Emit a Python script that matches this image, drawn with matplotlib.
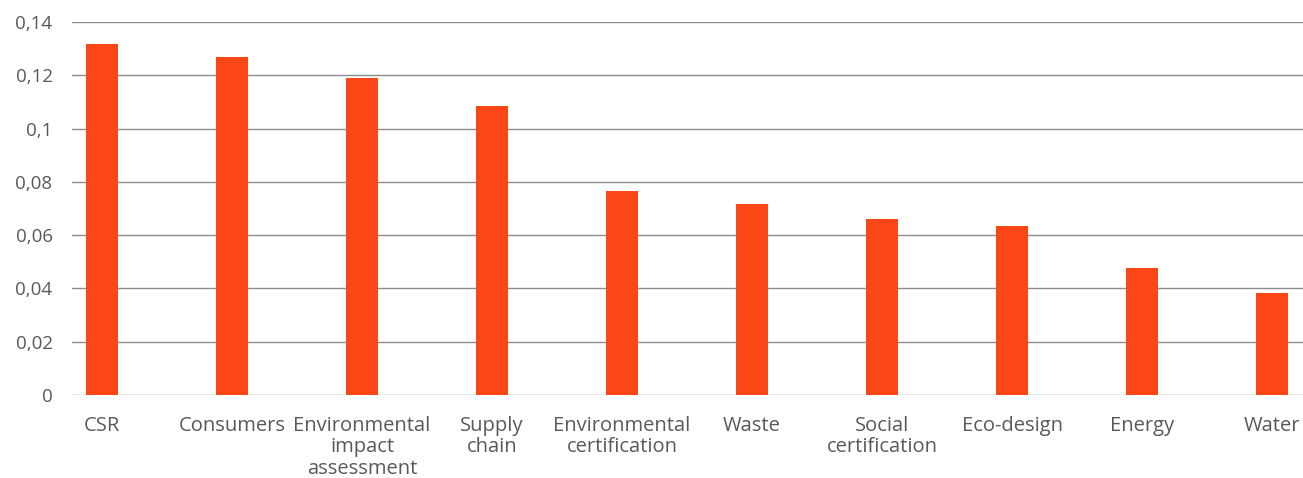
import matplotlib.pyplot as plt
from matplotlib.ticker import FuncFormatter

# Data
categories = ["CSR", "Consumers", "Environmental\nimpact\nassessment", "Supply\nchain",
              "Environmental\ncertification", "Waste", "Social\ncertification",
              "Eco-design", "Energy", "Water"]
values = [0.1317, 0.1269, 0.1188, 0.1086, 0.0766, 0.0717, 0.0660, 0.0634, 0.0476, 0.0382]
y_ticks = [0, 0.02, 0.04, 0.06, 0.08, 0.1, 0.12, 0.14]

bar_color = "#FB4616"
text_color = "#595959"
grid_color = "#8C8C8C"

plt.rcParams['font.family'] = ['Open Sans', 'DejaVu Sans']

fig = plt.figure(figsize=(13.03, 4.78), dpi=100)
ax = fig.add_axes([72 / 1303, 1 - 395 / 478, 1 - 72 / 1303, 373 / 478])

x = list(range(len(categories)))
ax.bar(x, values, width=0.25, color=bar_color, zorder=3)

ax.set_xlim(-30 / 130, (1303 - 102) / 130)
ax.set_ylim(0, 0.14)
ax.set_yticks(y_ticks)
ax.yaxis.set_major_formatter(FuncFormatter(lambda v, p: "0" if v == 0 else f"{v:g}".replace(".", ",")))
ax.grid(axis='y', color=grid_color, linewidth=1, zorder=0)
ax.set_axisbelow(True)

ax.set_xticks(x)
ax.set_xticklabels(categories, linespacing=1.1)
ax.tick_params(axis='x', length=0, pad=15, labelsize=14.5, labelcolor=text_color)
ax.tick_params(axis='y', length=0, pad=14, labelsize=13.5, labelcolor=text_color)

for s in ax.spines.values():
    s.set_visible(False)

fig.savefig("out.png", dpi=100)
